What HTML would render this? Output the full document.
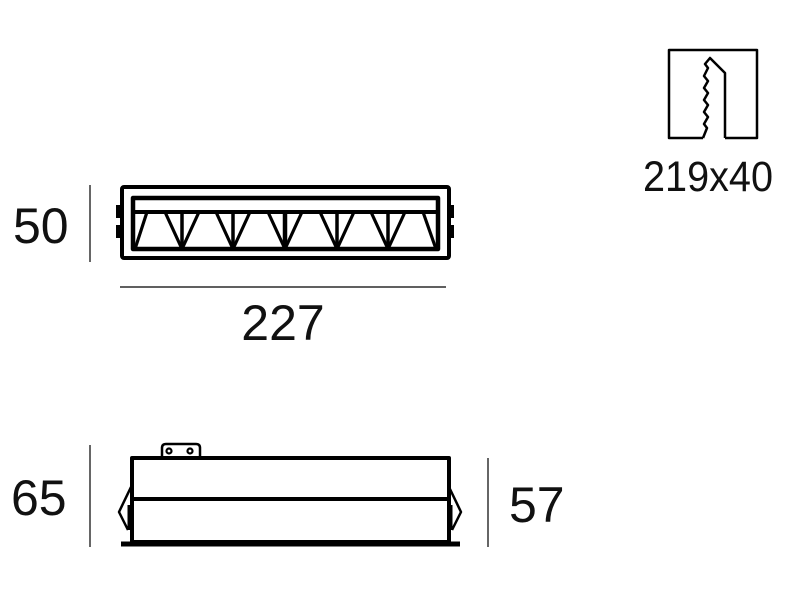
<!DOCTYPE html>
<html><head><style>html,body{margin:0;padding:0;background:#fff}svg{display:block}text{font-family:"Liberation Sans",sans-serif;fill:#111}</style></head>
<body>
<svg width="794" height="593" viewBox="0 0 794 593" xmlns="http://www.w3.org/2000/svg">
<g fill="none" stroke="#000" stroke-linejoin="round">
<!-- top view -->
<rect x="122" y="187" width="327" height="71" rx="2" stroke-width="4"/>
<rect x="133" y="198" width="305" height="51" stroke-width="4.5"/>
<line x1="133" y1="212" x2="438" y2="212" stroke-width="4"/>
<g stroke-width="3.2">
<polyline points="135,249 147,212"/>
<polyline points="165,212 182,249 199,212"/>
<polyline points="216,212 233,249 250,212"/>
<polyline points="268,212 285,249 302,212"/>
<polyline points="320,212 337,249 354,212"/>
<polyline points="371,212 388,249 405,212"/>
<polyline points="423,212 436,249"/>
</g>
<g stroke-width="3.5">
<line x1="182" y1="212" x2="182" y2="249"/>
<line x1="233" y1="212" x2="233" y2="249"/>
<line x1="285" y1="212" x2="285" y2="249" stroke-width="4.5"/>
<line x1="337" y1="212" x2="337" y2="249"/>
<line x1="388" y1="212" x2="388" y2="249"/>
</g>
<line x1="118" y1="205" x2="118" y2="218" stroke-width="4"/>
<line x1="118" y1="225" x2="118" y2="238" stroke-width="4"/>
<line x1="452" y1="205" x2="452" y2="218" stroke-width="4"/>
<line x1="452" y1="225" x2="452" y2="238" stroke-width="4"/>
<!-- dims -->
<line x1="90" y1="185" x2="90" y2="262" stroke-width="1.2"/>
<line x1="120" y1="287" x2="446" y2="287" stroke-width="1.2"/>
<line x1="90" y1="445" x2="90" y2="547" stroke-width="1.2"/>
<line x1="488" y1="458" x2="488" y2="547" stroke-width="1.2"/>
<!-- side view -->
<path d="M162,458 V448 Q162,444 166,444 H196 Q200,444 200,448 V458" stroke-width="2.5"/>
<circle cx="169" cy="451" r="2.5" stroke-width="2.2"/>
<circle cx="190" cy="451" r="2.5" stroke-width="2.2"/>
<rect x="132" y="458" width="317" height="84" stroke-width="4"/>
<line x1="132" y1="499" x2="449" y2="499" stroke-width="4"/>
<line x1="121" y1="544" x2="460" y2="544" stroke-width="5"/>
<polyline points="131,487 119,512 128,530" stroke-width="2.5"/>
<polyline points="449,487 461,512 452,530" stroke-width="2.5"/>
<line x1="129" y1="505" x2="129" y2="530" stroke-width="3"/>
<line x1="451" y1="505" x2="451" y2="530" stroke-width="3"/>
<!-- icon -->
<path d="M703,138 H669 V50 H757 V138 H725" stroke-width="2.5"/>
<polyline points="703,138 707,128 704,124 708,117 704,112 708,105 704,100 708,93 704,88 708,81 704,76 708,68 705,64 710,58 725,73 725,138" stroke-width="2.5"/>
</g>
<text x="13" y="243" font-size="50">50</text>
<text x="283" y="340" font-size="50" text-anchor="middle">227</text>
<text x="11" y="515" font-size="50">65</text>
<text x="509" y="522" font-size="50">57</text>
<text x="643" y="191" font-size="43" textLength="130" lengthAdjust="spacingAndGlyphs">219x40</text>
</svg>
</body></html>
